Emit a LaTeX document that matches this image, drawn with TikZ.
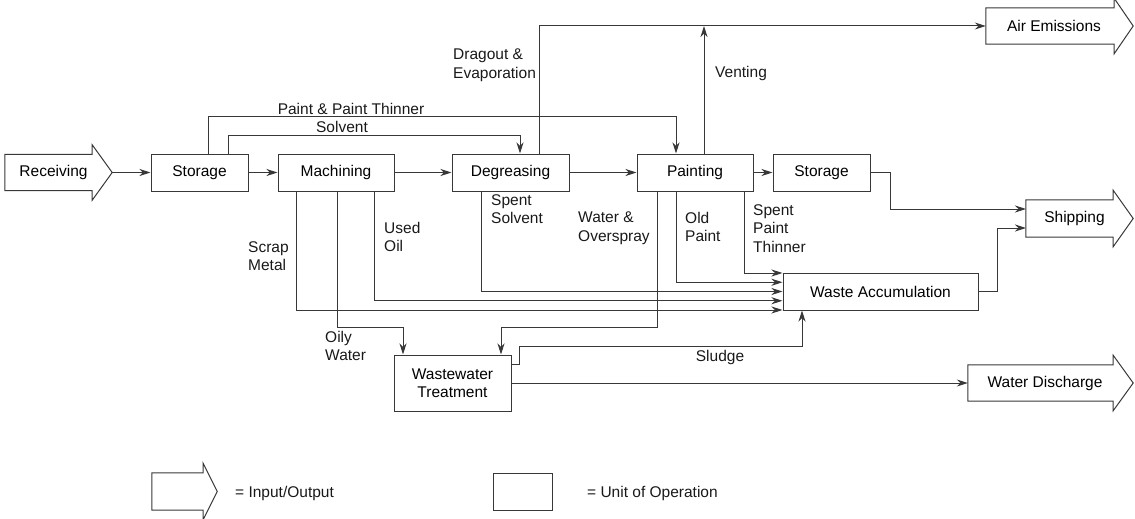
\documentclass[tikz,border=0pt]{standalone}
\usepackage{fontspec}
\setmainfont{Liberation Sans}
\usetikzlibrary{arrows.meta,calc}
\tikzset{
  ln/.style={draw=black!78, line width=1pt},
  flow/.style={ln, -{Stealth[length=11pt,width=7pt,inset=3.5pt]}},
  unit/.style={ln, rectangle, inner sep=0pt, minimum height=37pt},
  iobody/.style={rectangle, inner sep=0pt, minimum height=36pt},
  lbl/.style={inner sep=0pt, align=left, text=black!90},
}
\newcommand\ioarrowshape[2]{%
  \draw[ln] (#1.north west) -- (#1.north east) -- ++(0,-9.5) -- ($(#1.east)+(#2,0)$)
    -- ($(#1.south east)+(0,9.5)$) -- (#1.south east) -- (#1.south west) -- cycle;}
\begin{document}
\begin{tikzpicture}[x=1pt,y=-1pt,font=\fontsize{15.5}{18.5}\selectfont]
\useasboundingbox (0,0) rectangle (1135,519);

% units of operation
\node[unit, minimum width=97pt] (st1) at (199.5,172.5) {Storage};
\node[unit, minimum width=116pt] (mach) at (336,172.5) {Machining};
\node[unit, minimum width=117pt] (deg) at (510.5,172.5) {Degreasing};
\node[unit, minimum width=116pt] (paint) at (695,172.5) {Painting};
\node[unit, minimum width=97pt] (st2) at (821.5,172.5) {Storage};
\node[unit, minimum width=195pt] (wa) at (880.5,291.5) {Waste Accumulation};
\node[unit, minimum width=117pt, minimum height=56pt, align=center] (wwt) at (452.5,383) {Wastewater\\Treatment};

% input / output arrows
\node[iobody, minimum width=87pt] (recv) at (48.5,172.5) {\hspace*{10pt}Receiving};
\ioarrowshape{recv}{20}
\coordinate (recvtip) at ($(recv.east)+(20,0)$);
\node[iobody, minimum width=128pt] (air) at (1050,26) {\hspace*{8pt}Air Emissions};
\ioarrowshape{air}{19}
\node[iobody, minimum width=87pt, minimum height=37pt] (ship) at (1069.5,218.5) {\hspace*{10pt}Shipping};
\ioarrowshape{ship}{20}
\node[iobody, minimum width=145pt] (wd) at (1040.5,383) {\hspace*{9pt}Water Discharge};
\ioarrowshape{wd}{20}

% main line
\draw[flow] (recvtip) -- (st1.west);
\draw[flow] (st1.east) -- (mach.west);
\draw[flow] (mach.east) -- (deg.west);
\draw[flow] (deg.east) -- (paint.west);
\draw[flow] (paint.east) -- (st2.west);

% supplies from storage
\draw[flow] ([xshift=8.5pt]st1.north) -- ++(0,-37) -| ([xshift=-19pt]paint.north);
\draw[flow] ([xshift=28.5pt]st1.north) -- ++(0,-18) -| ([xshift=9.5pt]deg.north);
\node[lbl, anchor=base] (lppt) at (351,114.5) {Paint \& Paint Thinner};
\node[lbl, anchor=base] (lsolv) at (342,132.5) {Solvent};

% air emissions
\draw[flow] ([xshift=28.5pt]deg.north) |- (air.west);
\coordinate (vent) at ([xshift=9pt]paint.north);
\draw[flow] (vent) -- (vent |- air.west);
\node[lbl, anchor=north west] (ldrag) at (453,49) {Dragout \&\\Evaporation};
\node[lbl, anchor=base west] (lvent) at (715,77.5) {Venting};

% shipping
\coordinate (shipa) at (1026,209);
\coordinate (shipb) at (1026,228);
\draw[flow] (st2.east) -- ++(20,0) |- (shipa);
\draw[flow] (wa.east) -- ++(19,0) |- (shipb);

% wastes to accumulation
\draw[flow] ([xshift=-40pt]mach.south) |- ([yshift=-18.5pt]wa.west);
\draw[flow] ([xshift=38pt]mach.south) |- ([yshift=-9.25pt]wa.west);
\draw[flow] ([xshift=-29.5pt]deg.south) |- (wa.west);
\draw[flow] ([xshift=-19pt]paint.south) |- ([yshift=9.25pt]wa.west);
\draw[flow] ([xshift=49pt]paint.south) |- ([yshift=18.5pt]wa.west);

% waters to treatment
\draw[flow] ([xshift=1pt]mach.south) -- ++(0,136) -| ([xshift=-49.5pt]wwt.north);
\draw[flow] ([xshift=-38pt]paint.south) -- ++(0,136) -| ([xshift=48.5pt]wwt.north);

% treatment outputs
\draw[flow] ([yshift=19pt]wwt.east) -| (519,346) -| ([xshift=-78.5pt]wa.south);
\draw[flow] (wwt.east) -- (wd.west);
\node[lbl, anchor=base] (lsludge) at (720,361.5) {Sludge};

% stream labels
\node[lbl, anchor=north west] (lscrap) at (248,241) {Scrap\\Metal};
\node[lbl, anchor=north west] (loil) at (384,222) {Used\\Oil};
\node[lbl, anchor=north west] (lspsolv) at (491,194) {Spent\\Solvent};
\node[lbl, anchor=north west] (lwater) at (578,212) {Water \&\\Overspray};
\node[lbl, anchor=north west] (lold) at (685,212) {Old\\Paint};
\node[lbl, anchor=north west] (lspt) at (753,204) {Spent\\Paint\\Thinner};
\node[lbl, anchor=north west] (loily) at (325,331) {Oily\\Water};

% legend
\node[iobody, minimum width=51pt, minimum height=37pt] (legio) at (177.5,491.5) {};
\ioarrowshape{legio}{14}
\node[lbl, anchor=base west] (llegio) at (235,497.5) {= Input/Output};
\node[unit, minimum width=59pt] (legunit) at (522.5,491.5) {};
\node[lbl, anchor=base west] (llegunit) at (587,497.5) {= Unit of Operation};
\end{tikzpicture}
\end{document}
